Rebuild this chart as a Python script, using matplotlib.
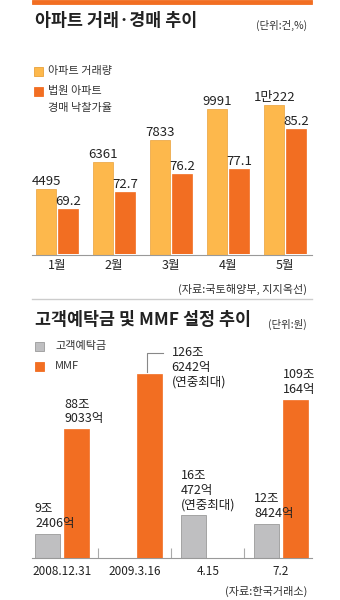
import numpy as np
import matplotlib
matplotlib.use("Agg")
import matplotlib.pyplot as plt
from matplotlib.patches import Rectangle
from matplotlib.lines import Line2D

plt.rcParams['font.family'] = ['Noto Sans CJK KR', 'DejaVu Sans']

# 아파트 거래·경매 추이
months = ['1월', '2월', '3월', '4월', '5월']
trade_volume = [4495, 6361, 7833, 9991, 10222]          # 건
trade_labels = ['4495', '6361', '7833', '9991', '1만222']
auction_rate = [69.2, 72.7, 76.2, 77.1, 85.2]           # %

# 고객예탁금 및 MMF 설정 추이 (조 원)
dates = ['2008.12.31', '2009.3.16', '4.15', '7.2']
deposit = [9.2406, np.nan, 16.0472, 12.8424]
deposit_labels = ['9조\n2406억', '', '16조\n472억\n(연중최대)', '12조\n8424억']
mmf = [88.9033, 126.6242, np.nan, 109.0164]
mmf_labels = ['88조\n9033억', '', '', '109조\n164억']
mmf_peak_label = '126조\n6242억\n(연중최대)'

YELLOW = '#fdb84c'
ORANGE = '#f26e22'
GRAY = '#bfbfc1'
W, H = 340, 600

fig = plt.figure(figsize=(3.4, 6.0), dpi=100)


def px_axes(x0, y_top, x1, y_bot):
    return fig.add_axes([x0 / W, 1 - y_bot / H, (x1 - x0) / W, (y_bot - y_top) / H])


def ftext(x, y, s, **kw):
    fig.text(x / W, 1 - y / H, s, **kw)


def fbox(x, y, w, h, color, edge=None):
    fig.add_artist(Rectangle((x / W, 1 - (y + h) / H), w / W, h / H, transform=fig.transFigure,
                             facecolor=color, edgecolor=edge or color, linewidth=0.6))


def clean(ax):
    for s in ['top', 'left', 'right']:
        ax.spines[s].set_visible(False)
    ax.set_yticks([])


# header band
fbox(32, 0, 280, 4, ORANGE)

# ---------- chart 1 ----------
ftext(35, 21, '아파트 거래·경매 추이', fontsize=12.5, fontweight='bold', va='center', color='#222222')
ftext(307, 25, '(단위:건,%)', fontsize=7.5, ha='right', va='center', color='#333333')

x1 = np.arange(len(months))
ax1 = px_axes(32, 94.5, 312, 254.5)
ax1.set_xlim(-0.4386, 4.474)
ax1.set_ylim(0, 160 / 0.0146)
ax1b = ax1.twinx()
ax1b.set_ylim(60.3, 60.3 + 160 / 5.06)
for a in (ax1, ax1b):
    clean(a)
    a.patch.set_visible(False)
ax1b.spines['bottom'].set_visible(False)
ax1.spines['bottom'].set_color('#999999')
ax1.spines['bottom'].set_linewidth(0.8)

ax1.bar(x1 - 0.19, trade_volume, width=0.35, color=YELLOW, edgecolor='#e9a13a', linewidth=0.5)
ax1b.bar(x1 + 0.19, auction_rate, width=0.35, color=ORANGE, edgecolor=ORANGE, linewidth=0.5)
for xi, v, lbl in zip(x1, trade_volume, trade_labels):
    ax1b.annotate(lbl, (xi - 0.19, v), xycoords=ax1.transData, xytext=(0, 1), textcoords='offset pixels',
                  ha='center', va='bottom', fontsize=9.5, color='#222222')
for xi, v in zip(x1, auction_rate):
    ax1b.annotate(f'{v:.1f}', (xi + 0.19, v), xytext=(0, 1), textcoords='offset pixels',
                  ha='center', va='bottom', fontsize=9.5, color='#222222')
ax1.set_xticks(x1)
ax1.set_xticklabels(months, fontsize=9, color='#222222')
ax1.tick_params(axis='x', length=0, pad=3)

# legend 1
fbox(34, 67, 9, 9, YELLOW, '#e9a13a')
ftext(48, 71, '아파트 거래량', fontsize=8, va='center', color='#333333')
fbox(34, 87, 9, 9, ORANGE)
ftext(48, 91, '법원 아파트', fontsize=8, va='center', color='#333333')
ftext(48, 108, '경매 낙찰가율', fontsize=8, va='center', color='#333333')

ftext(307, 289, '(자료:국토해양부, 지지옥선)', fontsize=8, ha='right', va='center', color='#333333')
fig.add_artist(Line2D([32 / W, 312 / W], [1 - 299 / H, 1 - 299 / H], transform=fig.transFigure,
                      color='#cccccc', linewidth=1))

# ---------- chart 2 ----------
ftext(35, 320, '고객예탁금 및 MMF 설정 추이', fontsize=12.5, fontweight='bold', va='center', color='#222222')
ftext(307, 324, '(단위:원)', fontsize=7.5, ha='right', va='center', color='#333333')

x2 = np.arange(len(dates))
ax2 = px_axes(32, 340, 312, 558)
ax2.set_xlim(-0.411, 3.425)
ax2.set_ylim(0, 218 / 2.65)
ax2b = ax2.twinx()
ax2b.set_ylim(0, 218 / 1.45)
for a in (ax2, ax2b):
    clean(a)
    a.patch.set_visible(False)
ax2b.spines['bottom'].set_visible(False)
ax2.spines['bottom'].set_color('#999999')
ax2.spines['bottom'].set_linewidth(0.8)

bw = 0.342
ax2.bar(x2 - 0.199, deposit, width=bw, color=GRAY, edgecolor='#9a9a9a', linewidth=0.6)
ax2b.bar(x2 + 0.199, mmf, width=bw, color=ORANGE, edgecolor=ORANGE, linewidth=0.5)
# deposit labels drawn in the top axes so they sit over the MMF bars
for xi, v, lbl in zip(x2, deposit, deposit_labels):
    if lbl:
        ax2b.annotate(lbl, (xi - 0.199 - bw / 2, v), xycoords=ax2.transData, xytext=(0, 4),
                      textcoords='offset pixels', ha='left', va='bottom', fontsize=9,
                      linespacing=1.15, color='#222222')
for xi, v, lbl in zip(x2, mmf, mmf_labels):
    if lbl:
        ax2b.annotate(lbl, (xi + 0.199 - bw / 2, v), xytext=(0, 4), textcoords='offset pixels',
                      ha='left', va='bottom', fontsize=9, linespacing=1.15, color='#222222')

# peak MMF label with leader line
pk = int(np.nanargmax(mmf))
xc, v = x2[pk] + 0.199, mmf[pk]
ax2b.plot([xc - 0.03, xc - 0.03, xc + 0.19], [v + 1.5, v + 15, v + 15], color='#888888', linewidth=0.8)
ax2b.annotate(mmf_peak_label, (xc, v), xytext=(22, 28), textcoords='offset pixels',
              ha='left', va='top', fontsize=9, linespacing=1.15, color='#222222')

ax2.set_xticks(x2)
ax2.set_xticklabels(dates, fontsize=8.5, color='#222222')
ax2.tick_params(axis='x', which='major', length=0, pad=5)
ax2.set_xticks(x2[:-1] + 0.5, minor=True)
ax2.tick_params(axis='x', which='minor', direction='in', length=7, width=0.8, color='#aaaaaa')

# legend 2
fbox(35, 342, 9, 9, GRAY, '#9a9a9a')
ftext(55, 346, '고객예탁금', fontsize=8, va='center', color='#333333')
fbox(35, 362, 9, 9, ORANGE)
ftext(55, 366, 'MMF', fontsize=8, va='center', color='#333333')

ftext(307, 591, '(자료:한국거래소)', fontsize=8, ha='right', va='center', color='#333333')

fig.savefig('out.png', dpi=100, facecolor='white')
